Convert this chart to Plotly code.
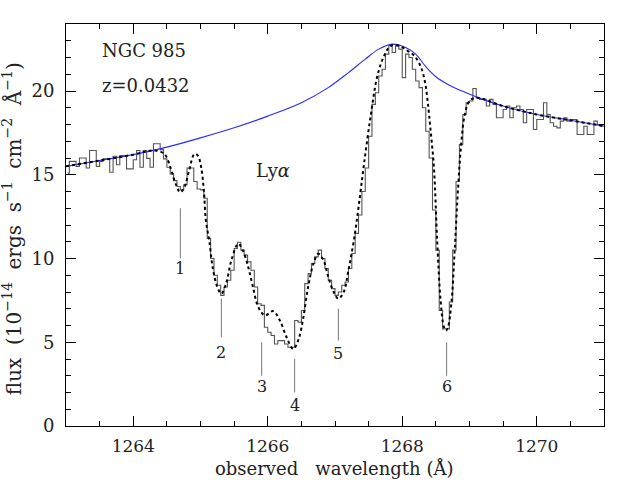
import numpy as np
import plotly.graph_objects as go

# ---- data ----
bin_start = 1263.0
bin_width = 0.05
hist_flux = [
    15.1, 15.8, 15.8, 15.5, 16.0, 16.0, 15.4, 16.45, 16.45, 15.5,
    15.8, 15.95, 15.95, 15.15, 16.1, 15.6, 16.15, 16.15, 15.35, 15.35,
    15.9, 16.45, 15.45, 16.45, 15.98, 15.45, 16.85, 16.85, 16.5, 15.95,
    15.45, 15.05, 14.65, 14.3, 14.1, 14.4, 15.4, 15.4, 14.6, 14.15,
    14.1, 13.6, 11.2, 10.0, 9.0, 8.4, 7.8, 8.3, 8.7, 9.3,
    10.6, 10.97, 10.5, 10.2, 9.8, 9.3, 8.3, 7.3, 7.2, 5.9,
    5.6, 5.4, 4.9, 5.1, 5.1, 4.9, 4.7, 4.7, 6.3, 6.2,
    6.9, 8.5, 9.1, 9.7, 10.1, 10.5, 10.0, 9.4, 8.7, 8.2,
    7.8, 8.0, 8.4, 8.6, 9.4, 10.3, 11.5, 12.6, 14.0, 15.4,
    17.3, 19.2, 19.9, 20.9, 21.3, 22.2, 22.7, 22.3, 22.7, 22.5,
    20.8, 22.2, 22.0, 21.3, 20.6, 20.2, 19.0, 17.6, 16.0, 12.9,
    10.5, 6.9, 5.8, 5.8, 7.4, 10.5, 14.6, 16.8, 18.6, 19.3,
    19.4, 20.15, 19.6, 19.5, 19.5, 19.1, 19.5, 19.2, 18.4, 18.4,
    18.9, 19.1, 18.4, 19.0, 19.1, 18.9, 18.1, 18.9, 18.9, 17.7,
    18.3, 18.3, 19.3, 18.6, 18.1, 17.9, 17.8, 18.2, 18.4, 18.2,
    18.3, 18.3, 17.4, 17.4, 17.9, 17.4, 17.4, 18.2, 18.0, 17.9,
]

cont_wl = [1263.0, 1263.5, 1264.0, 1264.5, 1265.0, 1265.5, 1266.0, 1266.5, 1266.9,
           1267.2, 1267.45, 1267.65, 1267.85, 1268.05, 1268.2, 1268.35, 1268.5,
           1268.7, 1268.95, 1269.2, 1269.5, 1270.0, 1270.5, 1271.0]
cont_flux = [15.5, 15.85, 16.2, 16.65, 17.2, 17.8, 18.5, 19.3, 20.2,
             21.1, 21.9, 22.5, 22.8, 22.6, 22.2, 21.45, 20.85,
             20.35, 19.9, 19.5, 19.1, 18.6, 18.25, 17.9]

model_wl = [1263.0, 1263.5, 1264.0, 1264.3, 1264.46, 1264.56, 1264.63, 1264.70, 1264.76,
            1264.83, 1264.91, 1264.96, 1265.01, 1265.05, 1265.08, 1265.13, 1265.18,
            1265.25, 1265.31, 1265.38, 1265.46, 1265.56, 1265.63, 1265.71, 1265.78,
            1265.86, 1265.96, 1266.08, 1266.18, 1266.28, 1266.38, 1266.46, 1266.53,
            1266.6, 1266.68, 1266.75, 1266.83, 1266.9, 1266.98, 1267.05, 1267.13,
            1267.2, 1267.28, 1267.35, 1267.43, 1267.53, 1267.63, 1267.73, 1267.83,
            1267.95, 1268.08, 1268.18, 1268.28, 1268.34, 1268.38, 1268.42, 1268.47,
            1268.52, 1268.57, 1268.62, 1268.65, 1268.68, 1268.73, 1268.78, 1268.83,
            1268.88, 1268.93, 1269.0, 1269.1, 1269.5, 1270.0, 1270.5, 1271.0]
model_flux = [15.5, 15.85, 16.2, 16.45, 16.25, 15.35, 14.45, 13.95, 14.25,
              15.25, 16.24, 16.14, 15.45, 14.05, 12.27, 11.07, 9.48,
              8.3, 7.9, 8.5, 9.9, 10.88, 10.48, 9.48, 8.3,
              7.1, 6.6, 6.86, 6.3, 5.3, 4.6, 5.2, 6.5,
              8.3, 9.7, 10.28, 9.88, 8.9, 8.0, 7.6, 8.0,
              9.3, 11.07, 13.06, 15.6, 18.5, 20.9, 22.1, 22.7,
              22.7, 22.4, 22.1, 21.4, 20.5, 19.3, 17.7, 15.5,
              11.0, 7.5, 5.9, 5.7, 5.9, 7.3, 10.5, 14.2,
              17.0, 18.6, 19.4, 19.6, 19.1, 18.6, 18.25, 17.9]

mark_labels = ["1", "2", "3", "4", "5", "6"]
mark_wl = [1264.70, 1265.31, 1265.91, 1266.40, 1267.05, 1268.66]
mark_top = [13.0, 7.6, 5.0, 4.0, 7.0, 5.0]
mark_bot = [10.0, 5.3, 3.0, 2.0, 5.1, 3.0]
mark_text_y = [9.4, 4.4, 2.35, 1.25, 4.3, 2.35]

x_ticks = [1264, 1266, 1268, 1270]
y_ticks = [0, 5, 10, 15, 20]

FONT = "DejaVu Serif"
INK = "#222222"

hist_wl = [bin_start + bin_width * (i + 0.5) for i in range(len(hist_flux))]

fig = go.Figure()
fig.add_trace(go.Scatter(x=hist_wl, y=hist_flux, mode="lines", line_shape="hvh",
                         line=dict(color="#555555", width=1.1), hoverinfo="skip"))
fig.add_trace(go.Scatter(x=cont_wl, y=cont_flux, mode="lines", line_shape="spline",
                         line=dict(color="#2a2aff", width=1.1), hoverinfo="skip"))
fig.add_trace(go.Scatter(x=model_wl, y=model_flux, mode="lines", line_shape="spline",
                         line=dict(color="#000000", width=2, dash="dot"), hoverinfo="skip"))
for w, t, b in zip(mark_wl, mark_top, mark_bot):
    fig.add_trace(go.Scatter(x=[w, w], y=[t, b], mode="lines",
                             line=dict(color="#777777", width=1), hoverinfo="skip"))

ann = []
for lab, w, y in zip(mark_labels, mark_wl, mark_text_y):
    ann.append(dict(x=w, y=y, xref="x", yref="y", text=lab, showarrow=False,
                    xanchor="center", yanchor="middle",
                    font=dict(family=FONT, size=16, color=INK)))
ann.append(dict(x=1263.51, y=22.4, xref="x", yref="y", text="NGC 985", showarrow=False,
                xanchor="left", yanchor="middle", font=dict(family=FONT, size=18, color=INK)))
ann.append(dict(x=1263.51, y=20.3, xref="x", yref="y", text="z=0.0432", showarrow=False,
                xanchor="left", yanchor="middle", font=dict(family=FONT, size=18, color=INK)))
ann.append(dict(x=1266.08, y=15.28, xref="x", yref="y", text="Ly<i>α</i>", showarrow=False,
                xanchor="center", yanchor="middle", font=dict(family=FONT, size=18, color=INK)))
ann.append(dict(x=0.498, y=-0.106, xref="paper", yref="paper",
                text="observed&nbsp;&nbsp;&nbsp;wavelength (Å)", showarrow=False,
                xanchor="center", yanchor="middle",
                font=dict(family=FONT, size=18, color=INK)))
ann.append(dict(x=-0.1, y=0.49, xref="paper", yref="paper", textangle=-90,
                text=("flux&nbsp; (10<sup>−14</sup>&nbsp; ergs&nbsp; s<sup>−1</sup>&nbsp; "
                      "cm<sup>−2</sup>&nbsp; Å<sup>−1</sup>)"),
                xanchor="center", yanchor="middle",
                showarrow=False, font=dict(family=FONT, size=20, color=INK)))

axis_common = dict(showline=True, linecolor="black", linewidth=1, mirror="allticks",
                   ticks="inside", ticklen=10, tickwidth=1, tickcolor="black",
                   showgrid=False, zeroline=False, automargin=False)

fig.update_layout(
    width=642, height=480,
    margin=dict(l=66, r=38, t=24, b=54, autoexpand=False),
    paper_bgcolor="white", plot_bgcolor="white",
    showlegend=False,
    annotations=ann,
    xaxis=dict(range=[1263, 1271], tickvals=x_ticks, ticktext=[str(v) for v in x_ticks],
               minor=dict(dtick=0.5, ticks="inside", ticklen=5, tickcolor="black"),
               ticklabelstandoff=5, tickfont=dict(family=FONT, size=17, color=INK),
               **axis_common),
    yaxis=dict(range=[0, 24], tickvals=y_ticks, ticktext=[str(v) for v in y_ticks],
               minor=dict(dtick=1, ticks="inside", ticklen=5, tickcolor="black"),
               ticklabelstandoff=7, tickfont=dict(family=FONT, size=18, color=INK),
               **axis_common),
)

fig.write_html("out.html", config={"displayModeBar": False},
               post_script="document.body.style.margin='0';document.body.style.padding='0';")
